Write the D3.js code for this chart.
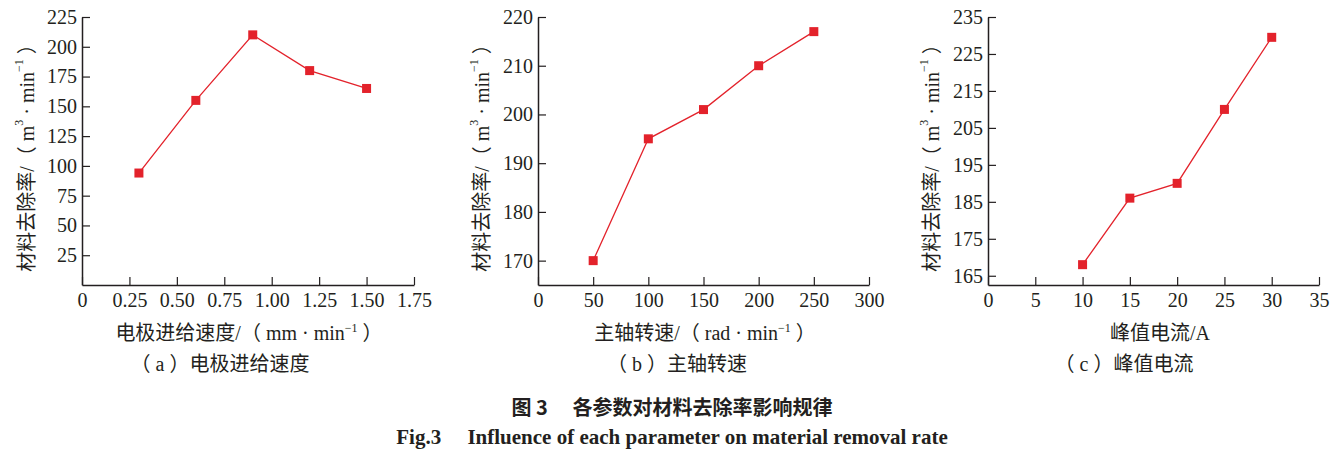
<!DOCTYPE html>
<html><head><meta charset="utf-8">
<script src="https://cdn.jsdelivr.net/npm/d3@7"></script>
<style>
html,body{margin:0;padding:0;background:#fff;}
svg text{font-family:"Liberation Serif","Noto Sans CJK SC",serif;fill:#231f20;}
</style></head>
<body>
<svg id="c" width="1337" height="457"></svg>
<script>
// Panel (a) electrode feed speed
const feedX = [0.3, 0.6, 0.9, 1.2, 1.5];
const feedY = [94, 155, 210, 180, 165];
const feedXTicks = [0, 0.25, 0.5, 0.75, 1.0, 1.25, 1.5, 1.75];
const feedYTicks = [25, 50, 75, 100, 125, 150, 175, 200, 225];
// Panel (b) spindle speed
const spindleX = [50, 100, 150, 200, 250];
const spindleY = [170, 195, 201, 210, 217];
const spindleXTicks = [0, 50, 100, 150, 200, 250, 300];
const spindleYTicks = [170, 180, 190, 200, 210, 220];
// Panel (c) peak current
const currentX = [10, 15, 20, 25, 30];
const currentY = [168, 186, 190, 210, 229.5];
const currentXTicks = [0, 5, 10, 15, 20, 25, 30, 35];
const currentYTicks = [165, 175, 185, 195, 205, 215, 225, 235];

const svg = d3.select("#c");
const ink = "#231f20", red = "#e3222b";
const plotBottom = 285, plotTop = 17;
const FS = "20px", SUP = "12px";

const panels = [
  {xs: feedX, ys: feedY, xt: feedXTicks, yt: feedYTicks, xd: [0, 1.75], yd: [0, 225], x0: 82, x1: 414,
   fmtX: d => d === 0 ? "0" : d3.format(".2f")(d), labX: 27, titleX: 249, capX: 220,
   title: ["电极进给速度/（ mm · min", "−1", " ）"], cap: "（ a ）电极进给速度"},
  {xs: spindleX, ys: spindleY, xt: spindleXTicks, yt: spindleYTicks, xd: [0, 300], yd: [165, 220], x0: 538, x1: 869,
   fmtX: d => String(d), labX: 482, titleX: 705, capX: 677,
   title: ["主轴转速/（ rad · min", "−1", " ）"], cap: "（ b ）主轴转速"},
  {xs: currentX, ys: currentY, xt: currentXTicks, yt: currentYTicks, xd: [0, 35], yd: [162.5, 235], x0: 988, x1: 1319,
   fmtX: d => String(d), labX: 932, titleX: 1160, capX: 1124,
   title: ["峰值电流/A"], cap: "（ c ）峰值电流"}
];

panels.forEach(p => {
  const x = d3.scaleLinear().domain(p.xd).range([p.x0, p.x1]);
  const y = d3.scaleLinear().domain(p.yd).range([plotBottom, plotTop]);
  const g = svg.append("g");

  const xa = g.append("g").attr("transform", `translate(0,${plotBottom})`)
    .call(d3.axisBottom(x).tickValues(p.xt).tickFormat(p.fmtX).tickSizeInner(-8).tickSizeOuter(0).tickPadding(17));
  const ya = g.append("g").attr("transform", `translate(${p.x0},0)`)
    .call(d3.axisLeft(y).tickValues(p.yt).tickSizeInner(-8).tickSizeOuter(0).tickPadding(5));
  [xa, ya].forEach(a => {
    a.select(".domain").attr("stroke", ink).attr("stroke-width", 1.5);
    a.selectAll(".tick line").attr("stroke", ink).attr("stroke-width", 1.2);
    a.selectAll(".tick text").attr("fill", ink).style("font-size", FS)
      .style("font-family", "'Liberation Serif',serif");
  });
  xa.selectAll(".tick text").attr("dy", "0.25em");

  const pts = p.xs.map((v, i) => [x(v), y(p.ys[i])]);
  g.append("path").attr("d", d3.line()(pts)).attr("fill", "none")
    .attr("stroke", red).attr("stroke-width", 1.3);
  g.selectAll("rect.m").data(pts).enter().append("rect")
    .attr("x", d => d[0] - 4.5).attr("y", d => d[1] - 4.5)
    .attr("width", 9).attr("height", 9).attr("fill", red);

  // y-axis label
  const yl = g.append("text")
    .attr("transform", `translate(${p.labX},${(plotTop + plotBottom) / 2 + 2}) rotate(-90)`)
    .attr("text-anchor", "middle").attr("dominant-baseline", "central")
    .style("font-size", FS);
  yl.append("tspan").text("材料去除率/（ m");
  yl.append("tspan").text("3").attr("dy", -8).style("font-size", SUP);
  yl.append("tspan").text(" · min").attr("dy", 8);
  yl.append("tspan").text("−1").attr("dy", -8).style("font-size", SUP);
  yl.append("tspan").text(" ）").attr("dy", 8);

  // x-axis title
  const xl = g.append("text").attr("x", p.titleX).attr("y", 340)
    .attr("text-anchor", "middle").style("font-size", FS);
  xl.append("tspan").text(p.title[0]);
  if (p.title.length > 1) {
    xl.append("tspan").text(p.title[1]).attr("dy", -8).style("font-size", SUP);
    xl.append("tspan").text(p.title[2]).attr("dy", 8);
  }
  // sub caption
  g.append("text").attr("x", p.capX).attr("y", 371).attr("text-anchor", "middle")
    .style("font-size", FS).text(p.cap);
});

svg.append("text").attr("x", 672).attr("y", 415).attr("text-anchor", "middle")
  .style("font-size", "20px").style("font-weight", "bold")
  .style("font-family", "'Noto Sans CJK SC',sans-serif").text("图 3　 各参数对材料去除率影响规律");
svg.append("text").attr("x", 672).attr("y", 444).attr("text-anchor", "middle")
  .style("font-size", "21px").style("font-weight", "bold")
  .style("font-family", "'Liberation Serif',serif").text("Fig.3　 Influence of each parameter on material removal rate");
</script>
</body></html>
